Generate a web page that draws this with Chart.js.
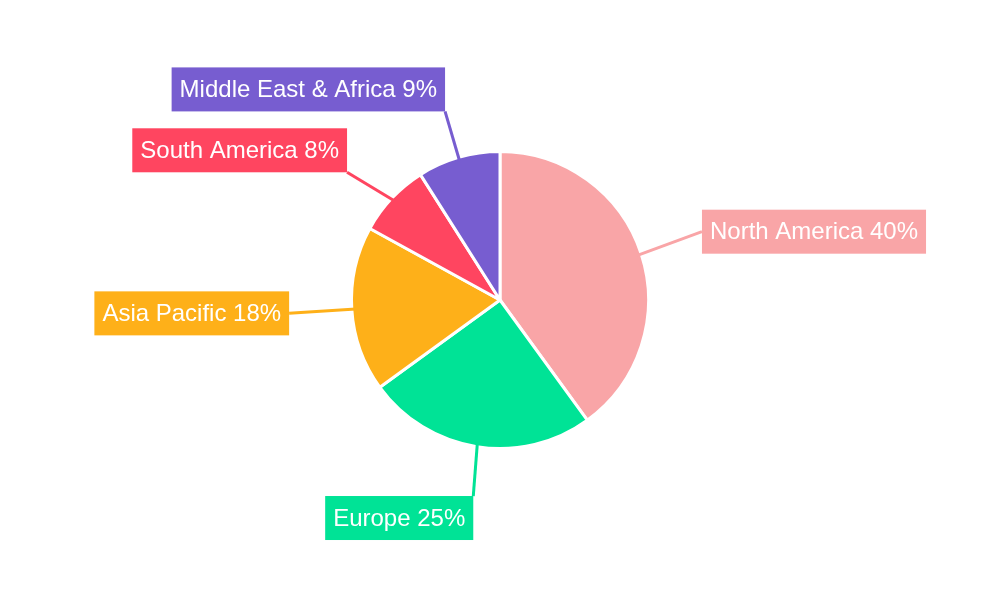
<!DOCTYPE html>
<html><head><meta charset="utf-8">
<script src="https://cdn.jsdelivr.net/npm/chart.js@4"></script>
<style>html,body{margin:0;background:#fff}#w{width:1000px;height:600px}</style>
</head><body><div id="w"><canvas id="c"></canvas></div>
<script>
const regions = ["North America","Europe","Asia Pacific","South America","Middle East & Africa"];
const shares = [40,25,18,8,9];
const colors = ["#F9A5A7","#00E396","#FEB019","#FF4560","#775DD0"];

const labelPlugin = {
  id:'boxLabels',
  afterDatasetsDraw(chart, args, opts){
    const ctx = chart.ctx, meta = chart.getDatasetMeta(0);
    ctx.save();
    ctx.font = '24px "Liberation Sans", Arial, sans-serif';
    ctx.textBaseline = 'middle';
    meta.data.forEach((arc,i)=>{
      const L = opts.layout[i];
      const r = arc.outerRadius, cx = arc.x, cy = arc.y;
      const mid = (arc.startAngle+arc.endAngle)/2;
      const sx = cx + Math.cos(mid)*(r-4), sy = cy + Math.sin(mid)*(r-4);
      const ex = cx + L.dx*r, ey = cy + L.dy*r;
      ctx.strokeStyle = colors[i]; ctx.lineWidth = 3;
      ctx.beginPath(); ctx.moveTo(sx,sy); ctx.lineTo(ex,ey); ctx.stroke();
      const text = regions[i]+' '+shares[i]+'%';
      const w = ctx.measureText(text).width + 16, h = 44;
      let bx = L.ax==='left' ? ex : ex - w;
      let by = L.ay==='top' ? ey : L.ay==='bottom' ? ey - h : ey - h/2;
      ctx.fillStyle = colors[i]; ctx.fillRect(bx,by,w,h);
      ctx.fillStyle = '#fff'; ctx.fillText(text, bx+8, by+h/2+1);
    });
    ctx.restore();
  }
};

new Chart(document.getElementById('c'),{
  type:'pie',
  data:{labels:regions,datasets:[{data:shares,backgroundColor:colors,borderColor:'#fff',borderWidth:3}]},
  options:{
    responsive:true,maintainAspectRatio:false,animation:false,
    layout:{padding:{top:150,bottom:150}},
    plugins:{legend:{display:false},tooltip:{enabled:false},
      boxLabels:{layout:[
        {dx:1.36,dy:-0.46,ax:'left',ay:'middle'},
        {dx:-0.18,dy:1.32,ax:'right',ay:'top'},
        {dx:-1.42,dy:0.09,ax:'right',ay:'middle'},
        {dx:-1.03,dy:-0.86,ax:'right',ay:'bottom'},
        {dx:-0.37,dy:-1.27,ax:'right',ay:'bottom'}
      ]}}
  },
  plugins:[labelPlugin]
});
</script></body></html>
